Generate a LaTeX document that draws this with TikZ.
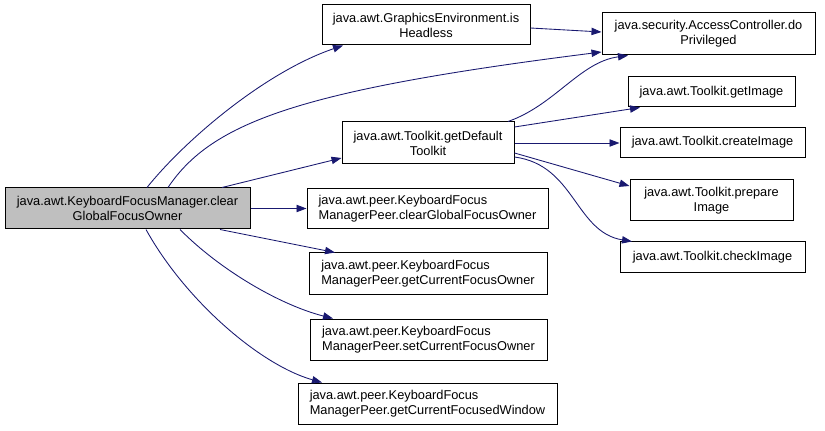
\documentclass[tikz,border=0pt]{standalone}
\usepackage{fontspec}
\setmainfont{Liberation Sans}
\usetikzlibrary{arrows.meta}
\definecolor{navy}{HTML}{191970}
\definecolor{rootgray}{HTML}{BFBFBF}
\newcommand{\fsz}{\fontsize{9.6}{11.2}\selectfont}
\tikzset{
  box/.style={draw=black, line width=0.75pt, inner sep=0pt, font=\fsz, align=center, fill=white},
  conn/.style={draw=navy, line width=0.65pt, -{Triangle[length=7.5pt,width=5.5pt]}}
}
\begin{document}
\begin{tikzpicture}[x=0.75pt,y=-0.75pt]
\useasboundingbox (0,0) rectangle (825,431);
% nodes
\node[box, fill=rootgray, minimum width=183.75pt, minimum height=30.75pt] (root) at (127.5,208.5) {java.awt.KeyboardFocusManager.clear\\GlobalFocusOwner};
\node[box, minimum width=156pt, minimum height=30pt] (ge) at (426,25) {java.awt.GraphicsEnvironment.is\\Headless};
\node[box, minimum width=159.75pt, minimum height=31.5pt] (ac) at (708.5,34) {java.security.AccessController.do\\Privileged};
\node[box, minimum width=129pt, minimum height=31.5pt] (gdt) at (428,143) {java.awt.Toolkit.getDefault\\Toolkit};
\node[box, minimum width=125.25pt, minimum height=22.5pt] (gi) at (711.5,92) {java.awt.Toolkit.getImage};
\node[box, minimum width=138.75pt, minimum height=22.5pt] (ci) at (712.5,142.5) {java.awt.Toolkit.createImage};
\node[box, minimum width=122.25pt, minimum height=30.75pt] (pi) at (711.5,200.5) {java.awt.Toolkit.prepare\\Image};
\node[box, minimum width=138.75pt, minimum height=22.5pt] (chk) at (712.5,257) {java.awt.Toolkit.checkImage};
\node[box, align=left, minimum width=180.75pt, minimum height=30pt] (cg) at (427.5,209) {java.awt.peer.KeyboardFocus\\ManagerPeer.clearGlobalFocusOwner};
\node[box, align=left, minimum width=178.5pt, minimum height=30.75pt] (gco) at (428,273.5) {java.awt.peer.KeyboardFocus\\ManagerPeer.getCurrentFocusOwner};
\node[box, align=left, minimum width=177.75pt, minimum height=30.75pt] (sco) at (428.5,339.5) {java.awt.peer.KeyboardFocus\\ManagerPeer.setCurrentFocusOwner};
\node[box, align=left, minimum width=194.25pt, minimum height=30.75pt] (gcw) at (427.5,403.5) {java.awt.peer.KeyboardFocus\\ManagerPeer.getCurrentFocusedWindow};
% connectors
\draw[conn] (147,0 |- root.north) .. controls (185,140) and (265,72) .. (343,0 |- ge.south);
\draw[conn] (168,0 |- root.north) .. controls (212,122) and (300,90) .. (ac.west |- 0,52);
\draw[conn] (222,0 |- root.north) -- (gdt.west |- 0,158);
\draw[conn] (root.east |- 0,208.5) -- (cg.west |- 0,208.5);
\draw[conn] (220,0 |- root.south) -- (335,0 |- gco.north);
\draw[conn] (180,0 |- root.south) .. controls (220,270) and (280,305) .. (333,0 |- sco.north);
\draw[conn] (146,0 |- root.south) .. controls (185,300) and (260,365) .. (322,0 |- gcw.north);
\draw[conn] (ge.east |- 0,28) -- (ac.west |- 0,32);
\draw[conn] (508,0 |- gdt.north) .. controls (555,105) and (580,62) .. (628,0 |- ac.south);
\draw[conn] (gdt.east |- 0,127) -- (640,0 |- gi.south);
\draw[conn] (gdt.east |- 0,143) -- (ci.west |- 0,143);
\draw[conn] (gdt.east |- 0,153) -- (pi.west |- 0,186);
\draw[conn] (gdt.east |- 0,157) .. controls (575,165) and (575,232) .. (632,0 |- chk.north);
\end{tikzpicture}
\end{document}
